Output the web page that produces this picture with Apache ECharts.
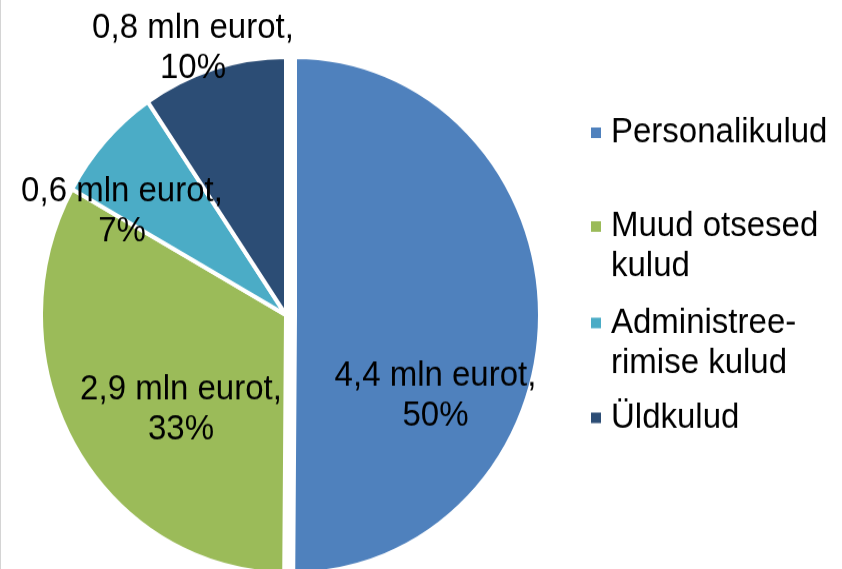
<!DOCTYPE html>
<html><head><meta charset="utf-8">
<script src="https://cdn.jsdelivr.net/npm/echarts@6/dist/echarts.min.js"></script>
<style>
html,body{margin:0;padding:0;background:#fff;overflow:hidden;}
#wrap{width:842px;height:569px;overflow:hidden;position:relative;}
#chart{width:842px;height:540px;transform:scaleY(1.0537);transform-origin:0 0;}
</style></head><body><div id="wrap"><div id="chart"></div></div>
<script>
// Data
const categories = ['Personalikulud', 'Muud otsesed kulud', 'Administreerimise kulud', 'Üldkulud'];
const legendLabels = ['Personalikulud', 'Muud otsesed\nkulud', 'Administree-\nrimise kulud', 'Üldkulud'];
const valuesMlnEur = [4.36, 2.87, 0.64, 0.83];

// Styling / layout
const colors = ['#4F81BD', '#9BBB59', '#4BACC6', '#2C4D75'];
const labelPos = [null, [181, 389], [122, 201], [193, 45.5]];
const legendTops = [107, 158, 249.5, 377.6];
const FONT = '"Liberation Sans", Arial, Helvetica, sans-serif';
const FS = 33, LH = 38;

const chart = echarts.init(document.getElementById('chart'));

// a leading empty line keeps the legend marker level with the first text line
function legendText(n) {
  const t = legendLabels[categories.indexOf(n)];
  const lines = t.split('\n').length;
  return (lines > 1 ? '\n'.repeat(lines - 1) : '') + t;
}

const legends = categories.map((name, i) => ({
  show: true,
  orient: 'vertical',
  left: 589,
  top: legendTops[i],
  padding: 0,
  icon: 'rect',
  itemWidth: 12,
  itemHeight: 12,
  selectedMode: false,
  data: [{ name: name, textStyle: { padding: [0, 0, 0, 4] } }],
  formatter: legendText,
  textStyle: { fontFamily: FONT, fontSize: FS, lineHeight: LH, color: '#000' }
}));

function labelText(p) {
  const txt = p.value.toFixed(1).replace('.', ',') + ' mln eurot,\n' + Math.round(p.percent) + '%';
  // the exploded slice keeps its own label position; push its text lower inside the slice
  return p.dataIndex === 0 ? '\n\n\n\n' + txt : txt;
}

const option = {
  animation: false,
  backgroundColor: '#fff',
  color: colors,
  legend: legends,
  graphic: [{
    type: 'line',
    shape: { x1: 0.5, y1: 0, x2: 0.5, y2: 540 },
    style: { stroke: '#d4d4d4', lineWidth: 1 }
  }],
  series: [{
    type: 'pie',
    center: [286, 299],
    radius: 245,
    startAngle: 90,
    clockwise: true,
    selectedMode: 'single',
    selectedOffset: 9,
    avoidLabelOverlap: false,
    emphasis: { disabled: true },
    itemStyle: { borderColor: '#fff', borderWidth: 4 },
    label: {
      show: true,
      position: 'inside',
      fontFamily: FONT,
      fontSize: FS,
      lineHeight: LH,
      color: '#000',
      align: 'center',
      formatter: labelText
    },
    labelLine: { show: false },
    labelLayout: (p) => labelPos[p.dataIndex] ? {
      x: labelPos[p.dataIndex][0],
      y: labelPos[p.dataIndex][1],
      align: 'center',
      verticalAlign: 'middle'
    } : {},
    data: categories.map((name, i) => ({
      name: name,
      value: valuesMlnEur[i],
      selected: i === 0,
      label: i === 0 ? { padding: [0, 0, 0, 30] } : undefined
    }))
  }]
};
chart.setOption(option);
</script></body></html>
